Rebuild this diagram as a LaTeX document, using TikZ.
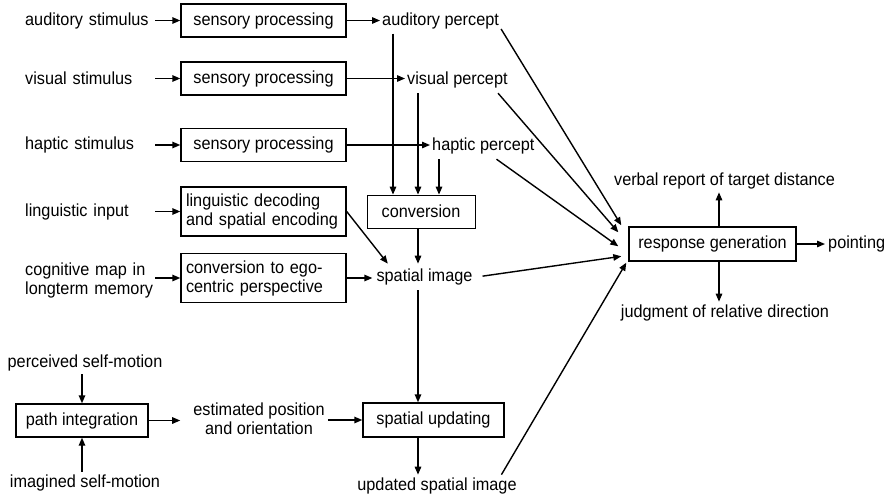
\documentclass[tikz,border=0pt]{standalone}
\usepackage{fontspec}
\setmainfont{Liberation Sans}[FakeStretch=0.93]
\usetikzlibrary{arrows.meta}

\tikzstyle{procbox} = [draw=black, line width=1.4pt, rectangle, minimum width=165pt, minimum height=33pt, inner sep=5pt]
\tikzstyle{twobox} = [procbox, minimum height=49pt, text width=155pt, align=left]
\tikzstyle{source} = [inner sep=0pt, anchor=west, text width=130pt, align=left]
\tikzstyle{percept} = [inner sep=2pt, anchor=west, minimum height=26pt]
\tikzstyle{outtext} = [inner sep=3pt]
\tikzstyle{flow} = [line width=1.4pt, -{Triangle[length=8pt,width=6.5pt]}]

\begin{document}
\begin{tikzpicture}[x=1pt, y=-1pt, font=\fontsize{17.5}{19}\selectfont]
\useasboundingbox (0,0) rectangle (889,496);
\node[source] (auin) at (25,20.5) {auditory stimulus};
\node[source] (viin) at (25,78.5) {visual stimulus};
\node[source] (hain) at (25,145) {haptic stimulus};
\node[source] (liin) at (25,211.5) {linguistic input};
\node[source] (cogmap) at (25,280) {cognitive map in\\longterm memory};

\node[procbox] (sens1) at (263.5,20.5) {sensory processing};
\node[procbox] (sens2) at (263.5,78.5) {sensory processing};
\node[procbox] (sens3) at (263.5,145) {sensory processing};
\node[twobox] (decode) at (263.5,211.5) {linguistic decoding\\and spatial encoding};
\node[twobox] (egoconv) at (263.5,278) {conversion to ego-\\centric perspective};

\node[percept] (audp) at (380,20.5) {auditory percept};
\node[percept] (visp) at (405,80) {visual percept};
\node[percept] (happ) at (430,146) {haptic percept};
\node[procbox, line width=0.8pt, minimum width=108pt] (conv) at (421,211.5) {conversion};
\node[outtext, inner xsep=4pt, inner ysep=5pt] (spimg) at (424.5,277) {spatial image};

\node[procbox, minimum width=141pt, minimum height=34pt] (update) at (433.5,420) {spatial updating};
\node[outtext] (updimg) at (437,486) {updated spatial image};
\node[procbox, minimum width=132pt] (pathint) at (82,420.5) {path integration};
\node[outtext] (percmot) at (85,363) {perceived self-motion};
\node[outtext] (imagmot) at (85,483) {imagined self-motion};
\node[outtext, align=center] (estpos) at (259,419) {estimated position\\and orientation};

\node[procbox, minimum width=167pt, minimum height=34pt] (respgen) at (712.5,244) {response generation};
\node[outtext, anchor=west] (point) at (825,244) {pointing};
\node[outtext] (verbal) at (724.5,181) {verbal report of target distance};
\node[outtext] (judge) at (725,313) {judgment of relative direction};

\coordinate (colA) at (393,0);
\coordinate (colB) at (418,0);
\coordinate (colC) at (439,0);
\coordinate (colR) at (719,0);
\coordinate (rin1) at ([shift={(-7pt,1pt)}]respgen.north west);
\coordinate (rin2) at ([shift={(-10pt,-6pt)}]respgen.north west);
\coordinate (rin3) at ([shift={(-10pt,-20pt)}]respgen.north west);
\coordinate (rin4) at ([shift={(-7pt,-30pt)}]respgen.north west);
\coordinate (rin5) at ([shift={(-2pt,-1pt)}]respgen.south west);

\draw[flow] (auin.east) -- (sens1.west);
\draw[flow] (viin.east) -- (sens2.west);
\draw[flow] (hain.east) -- (sens3.west);
\draw[flow] (liin.east) -- (decode.west);
\draw[flow] (cogmap.east |- egoconv.west) -- (egoconv.west);

\draw[flow] (sens1.east) -- (audp.west);
\draw[flow] (sens2.east) -- (sens2.east -| visp.west);
\draw[flow] (sens3.east) -- (sens3.east -| happ.west);

\draw[flow] (audp.south -| colA) -- (conv.north -| colA);
\draw[flow] (visp.south -| colB) -- (conv.north -| colB);
\draw[flow] (happ.south -| colC) -- (conv.north -| colC);
\draw[flow] (conv.south -| colB) -- (spimg.north -| colB);
\draw[flow] (decode.east) -- (spimg.160);
\draw[flow] (egoconv.east) -- (egoconv.east -| spimg.west);
\draw[flow] (spimg.south -| colB) -- (update.north -| colB);
\draw[flow] (update.south -| colB) -- (updimg.north -| colB);

\draw[flow] (percmot.south -| pathint.north) -- (pathint.north);
\draw[flow] (imagmot.north -| pathint.south) -- (pathint.south);
\draw[flow, shorten >=10pt] (pathint.east) -- (pathint.east -| estpos.west);
\draw[flow] (estpos.east |- update.west) -- (update.west);

\draw[flow] (audp.-8) -- (rin1);
\draw[flow] (visp.-18) -- (rin2);
\draw[flow] (happ.-45) -- (rin3);
\draw[flow, shorten <=6pt] (spimg.east) -- (rin4);
\draw[flow] (updimg.10) -- (rin5);

\draw[flow] (respgen.east) -- (point.west);
\draw[flow] (respgen.north -| colR) -- (verbal.south -| colR);
\draw[flow] (respgen.south -| colR) -- (judge.north -| colR);
\end{tikzpicture}
\end{document}
